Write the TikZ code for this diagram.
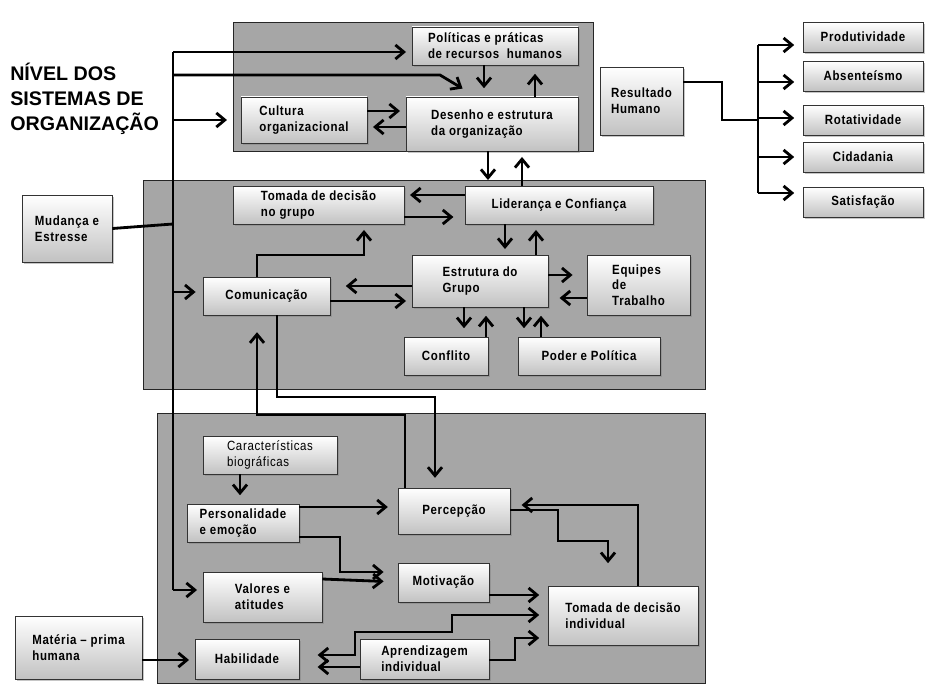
\documentclass[tikz,border=0pt]{standalone}
\usepackage{fontspec}
\setmainfont{Liberation Sans}
\newfontfamily\boxfont{Liberation Sans}[FakeStretch=0.86, LetterSpace=5]
\usetikzlibrary{arrows.meta, shadows}

\tikzset{
  >={Straight Barb[length=6pt, width=10pt]},
  panel/.style={draw=black!85, fill=black!35, line width=0.6pt, inner sep=0pt},
  box/.style={draw=black!80, line width=0.5pt, top color=white, bottom color=black!24,
    drop shadow={shadow xshift=1.5pt, shadow yshift=-1.5pt, opacity=0.45},
    align=left, inner sep=2pt, font=\boxfont\bfseries\fontsize{9.5}{11.2}\selectfont},
  thinbox/.style={box, font=\boxfont\fontsize{9.5}{11.2}\selectfont},
  sz/.style 2 args={minimum width=#1*0.025cm, minimum height=#2*0.025cm},
  link/.style={line width=2pt, black},
  arr/.style={link, ->, shorten >=4pt},
  arrboth/.style={link, <->, shorten >=4pt, shorten <=4pt}
}

\begin{document}
\begin{tikzpicture}[x=0.025cm, y=-0.025cm]

\useasboundingbox (0,0) rectangle (941,690);

% Panels
\node[panel, sz={360}{129}] (orgpanel) at (413,86.5) {};
\node[panel, sz={562}{209}] (grppanel) at (424,284.5) {};
\node[panel, sz={548}{270}] (indpanel) at (431,548) {};

% Title
\node[anchor=north west, inner sep=0pt, align=left,
  font=\bfseries\fontsize{14}{17.8}\selectfont] (title) at (10,63)
  {NÍVEL DOS\\SISTEMAS DE\\ORGANIZAÇÃO};

% Organization level
\node[box, sz={166}{38}] (polit) at (495,46) {Políticas e práticas\\de recursos \ humanos};
\node[box, sz={126}{46}] (cult) at (304,120) {Cultura\\organizacional};
\node[box, sz={172}{54}] (desenho) at (492,124) {Desenho e estrutura\\da organização};

% Human result
\node[box, sz={83}{68}] (result) at (641.5,101) {Resultado\\Humano};
\node[box, sz={120}{30}] (prod) at (863,37) {Produtividade};
\node[box, sz={120}{30}] (abs) at (863,76) {Absenteísmo};
\node[box, sz={120}{30}] (rot) at (863,120) {Rotatividade};
\node[box, sz={120}{30}] (cid) at (863,157) {Cidadania};
\node[box, sz={120}{30}] (sat) at (863,202) {Satisfação};

% Group level
\node[box, sz={90}{67}] (mud) at (67,228.5) {Mudança e\\Estresse};
\node[box, sz={171}{38}] (tgrupo) at (318.5,205) {Tomada de decisão\\no grupo};
\node[box, sz={188}{38}] (lider) at (559,205) {Liderança e Confiança};
\node[box, sz={127}{38}] (com) at (266.5,296) {Comunicação};
\node[box, sz={136}{52}] (estr) at (480,281) {Estrutura do\\Grupo};
\node[box, sz={103}{60}] (equip) at (638.5,285) {Equipes\\de\\Trabalho};
\node[box, sz={84}{38}] (confl) at (446,356) {Conflito};
\node[box, sz={142}{38}] (poder) at (589,356) {Poder e Política};

% Individual level
\node[thinbox, sz={134}{38}] (carac) at (270,455) {Características\\biográficas};
\node[box, sz={112}{38}] (pers) at (243,523) {Personalidade\\e emoção};
\node[box, sz={112}{46}] (perc) at (454,511) {Percepção};
\node[box, sz={119}{50}] (val) at (262.5,597) {Valores e\\atitudes};
\node[box, sz={91}{39}] (mot) at (443.5,582.5) {Motivação};
\node[box, sz={150}{59}] (tind) at (623,615.5) {Tomada de decisão\\individual};
\node[box, sz={127}{63}] (mat) at (78.5,647.5) {Matéria – prima\\humana};
\node[box, sz={104}{40}] (hab) at (247,659) {Habilidade};
\node[box, sz={129}{40}] (apr) at (424.5,659) {Aprendizagem\\individual};

% Trunk on the left
\coordinate (ttop) at (173,52);
\coordinate (tdes) at (173,75);
\coordinate (torg) at (173,120);
\coordinate (tmud) at (173,224);
\coordinate (tcom) at (173,292);
\coordinate (tbot) at (173,590);
\coordinate (dtip) at (465,90);

\draw[link] (ttop) -- (tbot);
\draw[arr] (ttop) -- (ttop -| polit.west);
\draw[arr, shorten >=2pt] (tdes) -- (440,75) -- (dtip);
\draw[arr] (torg) -- (torg -| orgpanel.west);
\draw[link] (mud.east) -- (tmud);
\draw[arr, shorten >=5pt] (tcom) -- (tcom -| com.west);
\draw[arr] (tbot) -- (tbot -| val.west);

% Trunk on the right
\coordinate (rtop) at (758,45);
\coordinate (rbot) at (758,193);
\draw[link] (rtop) -- (rbot);
\draw[link] (result.east |- 0,82) -- (722,82) |- (758,120);
\foreach \n/\y in {prod/45, abs/82, rot/118, cid/157, sat/193}
  \draw[arr, shorten >=6pt] (rtop |- 0,\y) -- (\n.west |- 0,\y);

% Organization level arrows
\draw[arr, shorten >=6pt] (polit.south -| 484,0) -- (desenho.north -| 484,0);
\draw[arr, shorten >=6pt] (desenho.north -| 535,0) -- (polit.south -| 535,0);
\draw[arr] (cult.east |- 0,111) -- (desenho.west |- 0,111);
\draw[arr] (desenho.west |- 0,127) -- (cult.east |- 0,127);
\draw[arr] (desenho.south -| 488,0) -- (lider.north -| 488,0);
\draw[arr] (lider.north -| 522,0) -- (desenho.south -| 522,0);

% Group level arrows
\draw[arr] (lider.west |- 0,195) -- (tgrupo.east |- 0,195);
\draw[arr, shorten >=8pt] (tgrupo.east |- 0,217) -- (lider.west |- 0,217);
\draw[arr] (lider.south -| 505,0) -- (estr.north -| 505,0);
\draw[arr] (estr.north -| 536,0) -- (lider.south -| 536,0);
\draw[arr] (com.north -| 257,0) |- (364,255) -- (tgrupo.south -| 364,0);
\draw[arr, shorten >=11pt] (estr.west |- 0,286) -- (com.east |- 0,286);
\draw[arr] (com.east |- 0,301) -- (estr.west |- 0,301);
\draw[arr, shorten >=10pt] (estr.east |- 0,275) -- (equip.west |- 0,275);
\draw[arr, shorten >=8pt] (equip.west |- 0,298) -- (estr.east |- 0,298);
\draw[arr, shorten >=6pt] (estr.south -| 464,0) -- (confl.north -| 464,0);
\draw[arr, shorten >=6pt] (confl.north -| 486,0) -- (estr.south -| 486,0);
\draw[arr, shorten >=6pt] (estr.south -| 524,0) -- (poder.north -| 524,0);
\draw[arr, shorten >=6pt] (poder.north -| 541,0) -- (estr.south -| 541,0);

% Between group and individual level
\draw[arr, shorten >=12pt] (perc.north -| 405,0) |- (257,415) -- (com.south -| 257,0);
\draw[arr, shorten >=7pt] (com.south -| 277,0) |- (435,397) -- (perc.north -| 435,0);

% Individual level arrows
\draw[arr, shorten >=6pt] (carac.south -| 240,0) -- (pers.north -| 240,0);
\draw[arr, shorten >=7pt] (pers.east |- 0,507) -- (perc.west |- 0,507);
\draw[arr, shorten >=10pt] (pers.east |- 0,537) -- (340,537) |- (mot.west |- 0,572);
\draw[arr, shorten >=10pt] (val.east |- 0,579) -- (mot.west |- 0,582);
\draw[arr, shorten >=16pt] (perc.east |- 0,510) -- (558,510) |- (608,541) -- (tind.north -| 608,0);
\draw[arr, shorten >=8pt] (tind.north -| 638,0) |- (perc.east |- 0,505);
\draw[arr, shorten >=6pt] (mot.east |- 0,595) -- (tind.west |- 0,595);
\draw[arrboth, shorten <=13pt, shorten >=6pt] (hab.east |- 0,655) -- (355,655) |- (452,632) |- (tind.west |- 0,615);
\draw[arr, shorten >=13pt] (apr.west |- 0,667) -- (hab.east |- 0,667);
\draw[arr, shorten >=6pt] (apr.east |- 0,660) -- (515,660) |- (tind.west |- 0,638);
\draw[arr] (mat.east |- 0,660) -- (hab.west |- 0,660);

\end{tikzpicture}
\end{document}
